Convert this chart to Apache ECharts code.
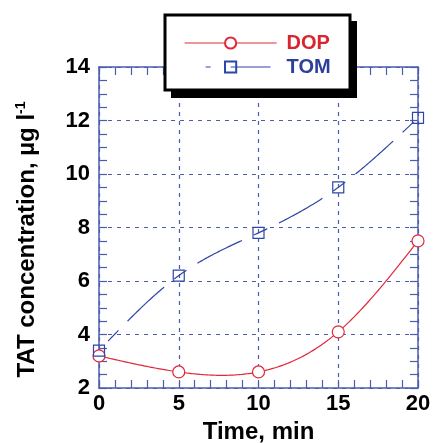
<!DOCTYPE html>
<html><head><meta charset="utf-8">
<script src="https://cdn.jsdelivr.net/npm/echarts@6/dist/echarts.min.js"></script>
<style>html,body{margin:0;padding:0;background:#fff}#c{width:433px;height:443px}</style>
</head><body><div id="c"></div>
<script>
const timeMin = [0, 5, 10, 15, 20];
const dop = [3.2, 2.6, 2.6, 4.1, 7.5];
const tom = [3.4, 6.2, 7.8, 9.5, 12.1];
const seriesNames = ['DOP', 'TOM'];

const axisBlue = '#4a5cb0';
const red = '#e0283a';
const blue = '#2e46a8';
const FF = 'Liberation Sans, Arial, sans-serif';

// natural cubic spline through the data points (rendering of the curve only)
function naturalSpline(xs, ys) {
  const n = xs.length, h = [], M = new Array(n).fill(0);
  for (let i = 0; i < n - 1; i++) h.push(xs[i + 1] - xs[i]);
  const a = [], b = [], c = [], d = [];
  for (let i = 1; i < n - 1; i++) {
    a.push(h[i - 1]); b.push(2 * (h[i - 1] + h[i])); c.push(h[i]);
    d.push(6 * ((ys[i + 1] - ys[i]) / h[i] - (ys[i] - ys[i - 1]) / h[i - 1]));
  }
  const m = b.length;
  for (let i = 1; i < m; i++) { const w = a[i] / b[i - 1]; b[i] -= w * c[i - 1]; d[i] -= w * d[i - 1]; }
  const sol = new Array(m);
  for (let i = m - 1; i >= 0; i--) sol[i] = (d[i] - (i < m - 1 ? c[i] * sol[i + 1] : 0)) / b[i];
  for (let i = 0; i < m; i++) M[i + 1] = sol[i];
  return function (x) {
    let k = 0;
    while (k < n - 2 && x > xs[k + 1]) k++;
    const hk = h[k], t1 = xs[k + 1] - x, t0 = x - xs[k];
    return M[k] * t1 * t1 * t1 / (6 * hk) + M[k + 1] * t0 * t0 * t0 / (6 * hk)
      + (ys[k] / hk - M[k] * hk / 6) * t1 + (ys[k + 1] / hk - M[k + 1] * hk / 6) * t0;
  };
}
function curveRenderer(ys, style) {
  const f = naturalSpline(timeMin, ys);
  return function (params, api) {
    if (params.dataIndex !== 0) return { type: 'group', children: [] };
    const pts = [];
    const x0 = timeMin[0], x1 = timeMin[timeMin.length - 1];
    for (let i = 0; i <= 200; i++) {
      const x = x0 + (x1 - x0) * i / 200;
      pts.push(api.coord([x, f(x)]));
    }
    return { type: 'polyline', shape: { points: pts }, style: Object.assign({ fill: null }, style), silent: true };
  };
}

const chart = echarts.init(document.getElementById('c'));
const baseX = {
  type: 'value', min: 0, max: 20, interval: 5,
  axisLine: { show: true, onZero: false, lineStyle: { color: axisBlue, width: 1.5 } },
  axisTick: { show: true, inside: true, length: 8, lineStyle: { color: axisBlue, width: 1.2 } },
  minorTick: { show: true, splitNumber: 5, length: 8, lineStyle: { color: axisBlue, width: 1.2 } },
  splitLine: { show: false }
};
const baseY = {
  type: 'value', min: 2, max: 14, interval: 2,
  axisLine: { show: true, onZero: false, lineStyle: { color: axisBlue, width: 1.5 } },
  axisTick: { show: true, inside: true, length: 8, lineStyle: { color: axisBlue, width: 1.2 } },
  minorTick: { show: true, splitNumber: 4, length: 8, lineStyle: { color: axisBlue, width: 1.2 } },
  splitLine: { show: false }
};
chart.setOption({
  animation: false,
  grid: { left: 99, right: 15, top: 67, bottom: 55, containLabel: false, outerBoundsMode: 'none' },
  xAxis: [
    Object.assign({}, baseX, {
      position: 'bottom',
      name: 'Time, min', nameLocation: 'middle', nameGap: 31,
      nameTextStyle: { fontFamily: FF, fontWeight: 'bold', fontSize: 24, color: '#000' },
      axisLabel: { fontFamily: FF, fontWeight: 'bold', fontSize: 22, color: '#000', margin: 5 },
      splitLine: { show: true, lineStyle: { color: axisBlue, type: [4, 5], width: 1.2 } }
    }),
    Object.assign({}, baseX, { position: 'top', axisLabel: { show: false } })
  ],
  yAxis: [
    Object.assign({}, baseY, {
      position: 'left',
      name: '{a|TAT concentration, µg l}{s|-1}', nameLocation: 'middle', nameGap: 59,
      nameTextStyle: {
        fontFamily: FF, fontWeight: 'bold', fontSize: 24, color: '#000', padding: [0, 24, 0, 0],
        rich: {
          a: { fontFamily: FF, fontWeight: 'bold', fontSize: 24, color: '#000' },
          s: { fontFamily: FF, fontWeight: 'bold', fontSize: 14, color: '#000', verticalAlign: 'top', padding: [0, 0, 12, 0] }
        }
      },
      axisLabel: { fontFamily: FF, fontWeight: 'bold', fontSize: 22, color: '#000', margin: 9 },
      splitLine: { show: true, lineStyle: { color: axisBlue, type: [4, 5], width: 1.2 } }
    }),
    Object.assign({}, baseY, { position: 'right', axisLabel: { show: false } })
  ],
  graphic: [
    { type: 'rect', z: 10, shape: { x: 171, y: 21, width: 186, height: 77 }, style: { fill: '#000' } },
    { type: 'rect', z: 11, shape: { x: 165, y: 15, width: 185, height: 75 }, style: { fill: '#fff', stroke: '#000', lineWidth: 3 } }
  ],
  legend: {
    z: 20, orient: 'vertical', left: 179, top: 28, itemWidth: 92, itemHeight: 14, itemGap: 4,
    selectedMode: false,
    data: [
      { name: 'DOP', textStyle: { color: '#d8252f' }, lineStyle: { color: red, width: 1.2, opacity: 1, type: 'solid' } },
      { name: 'TOM', textStyle: { color: '#2c3f9c' }, lineStyle: { color: blue, width: 1.2, opacity: 1, type: [5, 20, 40, 100], dashOffset: 144 } }
    ],
    textStyle: { fontFamily: FF, fontWeight: 'bold', fontSize: 20, padding: [0, 0, 0, 5] }
  },
  series: [
    {
      name: 'DOP curve', type: 'custom', renderItem: curveRenderer(dop, { stroke: red, lineWidth: 1.2 }),
      data: timeMin.map((t, i) => [t, dop[i]]), encode: { x: 0, y: 1 }, z: 3, silent: true
    },
    {
      name: 'TOM curve', type: 'custom', renderItem: curveRenderer(tom, { stroke: blue, lineWidth: 1.2, lineDash: [15, 13, 50, 13], lineDashOffset: 78 }),
      data: timeMin.map((t, i) => [t, tom[i]]), encode: { x: 0, y: 1 }, z: 3, silent: true
    },
    {
      name: seriesNames[0], type: 'line', xAxisIndex: 0, yAxisIndex: 0,
      data: timeMin.map((t, i) => [t, dop[i]]),
      symbol: 'circle', symbolSize: 12,
      itemStyle: { color: '#fff', borderColor: red, borderWidth: 1.2 },
      lineStyle: { color: red, width: 1.2, opacity: 0 }, z: 5
    },
    {
      name: seriesNames[1], type: 'line', xAxisIndex: 0, yAxisIndex: 0,
      data: timeMin.map((t, i) => [t, tom[i]]),
      symbol: 'rect', symbolSize: 11,
      itemStyle: { color: 'rgba(255,255,255,0)', borderColor: blue, borderWidth: 1.2 },
      lineStyle: { color: blue, width: 1.2, opacity: 0 }, z: 5
    }
  ]
});
</script></body></html>
